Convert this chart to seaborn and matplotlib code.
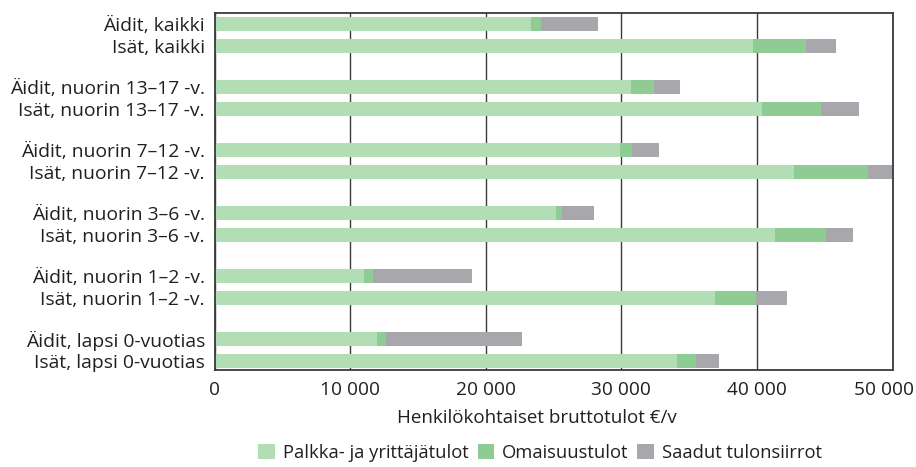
import matplotlib
matplotlib.use("Agg")
import matplotlib.pyplot as plt
import matplotlib.transforms as mtransforms
from matplotlib.patches import Patch
import numpy as np
import pandas as pd
import seaborn as sns

# Rows from top to bottom
rows = [
    "Äidit, kaikki", "Isät, kaikki",
    "Äidit, nuorin 13–17 -v.", "Isät, nuorin 13–17 -v.",
    "Äidit, nuorin 7–12 -v.", "Isät, nuorin 7–12 -v.",
    "Äidit, nuorin 3–6 -v.", "Isät, nuorin 3–6 -v.",
    "Äidit, nuorin 1–2 -v.", "Isät, nuorin 1–2 -v.",
    "Äidit, lapsi 0-vuotias", "Isät, lapsi 0-vuotias",
]

# Income components, euros per year
palkka = [23300, 39700, 30700, 40400, 29900, 42700, 25200, 41300, 11000, 36900, 12000, 34100]
omaisuus = [800, 3900, 1700, 4300, 900, 5500, 400, 3800, 700, 3000, 600, 1400]
siirrot = [4150, 2200, 1900, 2800, 2000, 1800, 2400, 2000, 7300, 2300, 10100, 1700]

series = ["Palkka- ja yrittäjätulot", "Omaisuustulot", "Saadut tulonsiirrot"]
colors = ["#b3ddb4", "#8fcc93", "#a8a8ac"]

xticks = [0, 10000, 20000, 30000, 40000, 50000]
xticklabels = ["0", "10 000", "20 000", "30 000", "40 000", "50 000"]
xlabel = "Henkilökohtaiset bruttotulot €/v"

sns.set_theme(style="white")
plt.rcParams["font.family"] = ["Open Sans", "DejaVu Sans"]
TEXT = "#231f20"

# Vertical layout: pairs of bars, a wider gap between age groups
idx = np.arange(len(rows))
pos = (idx // 2) * 63.0 + (idx % 2) * 21.5

df = pd.DataFrame({"pos": pos, "label": rows, "palkka": palkka})
df["omaisuus_cum"] = df["palkka"] + np.array(omaisuus)
df["total"] = df["omaisuus_cum"] + np.array(siirrot)

W, H = 916, 467
fig = plt.figure(figsize=(W / 100, H / 100), dpi=100)
ax_l, ax_r, ax_t, ax_b = 214.7, 892.5, 13.3, 370.0
ax = fig.add_axes([ax_l / W, 1 - ax_b / H, (ax_r - ax_l) / W, (ax_b - ax_t) / H])

# Stacked bars: draw cumulative totals from the longest down
for col, color in zip(["total", "omaisuus_cum", "palkka"], colors[::-1]):
    sns.barplot(data=df, x=col, y="pos", orient="y", native_scale=True,
                width=0.665, color=color, saturation=1, errorbar=None,
                linewidth=0, edgecolor="none", ax=ax)

XPAD = 8
ax.set_xlim(0, 50000)
ax.set_ylim(345.7, -11.0)
ax.set_xticks(xticks)
ax.set_xticklabels(xticklabels)
ax.set_yticks(pos)
ax.set_yticklabels(rows)
ax.tick_params(axis="both", length=0, colors=TEXT)
ax.tick_params(axis="y", pad=7, labelsize=13.9)
ax.tick_params(axis="x", pad=XPAD, labelsize=13.8)
ax.set_ylabel("")

ax.set_xlabel(xlabel, fontsize=13.5, color=TEXT)
ax.xaxis.set_label_coords((537 - ax_l) / (ax_r - ax_l), -(418 - ax_b) / (ax_b - ax_t))
ax.xaxis.label.set_va("center")

ax.set_axisbelow(True)
ax.xaxis.grid(True, color="#3a3a3a", linewidth=1.0)
ax.yaxis.grid(False)
for sp in ax.spines.values():
    sp.set_visible(True)
    sp.set_color("#3a3a3a")
    sp.set_linewidth(1.3)

handles = [Patch(facecolor=c, edgecolor="none") for c in colors]
fig.legend(handles, series, loc="center", bbox_to_anchor=(540 / W, 1 - 453 / H),
           ncol=3, frameon=False, fontsize=13.2, handlelength=0.9, handleheight=0.9,
           handletextpad=0.42, columnspacing=0.5, labelcolor=TEXT,
           borderpad=0, borderaxespad=0)

# Nudge the last tick label left so it stays inside the canvas
fig.canvas.draw()
last_tick = ax.xaxis.get_major_ticks()[-1]
last_tick.label1.set_transform(
    ax.get_xaxis_transform(which="tick1")
    + mtransforms.ScaledTranslation(-9 / 100, -XPAD / 72, fig.dpi_scale_trans))

fig.savefig("out.png", dpi=100)
